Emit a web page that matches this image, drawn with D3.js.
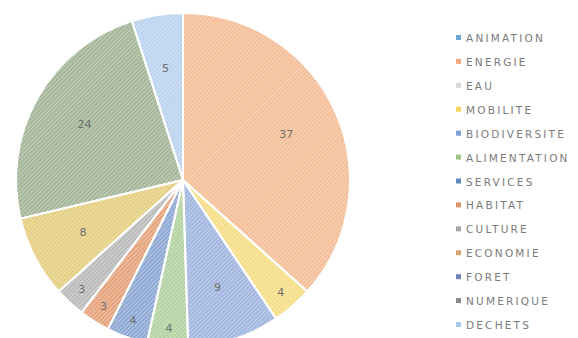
<!DOCTYPE html>
<html><head><meta charset="utf-8">
<script src="https://cdn.jsdelivr.net/npm/d3@7/dist/d3.min.js"></script>
<style>body{margin:0;background:#fff}svg{display:block}</style>
</head><body>
<svg id="chart" width="578" height="338"></svg>
<script>
const categories = ["ANIMATION","ENERGIE","EAU","MOBILITE","BIODIVERSITE","ALIMENTATION","SERVICES","HABITAT","CULTURE","ECONOMIE","FORET","NUMERIQUE","DECHETS"];
const values = [0,37,0,4,9,4,4,3,3,8,0,24,5];
const colors = ["#79AEDF","#F4BE98","#D3D3D3","#F6DE86","#A2B7E0","#B3D2A1","#8EA9D3","#E6A47C","#BBBBBB","#E5CF82","#8496C2","#A5B699","#BBD3EE"];
const legendColors = ["#6FA8DC","#F2A679","#DADADA","#F3D65E","#7D9ED6","#9CC585","#5E88BE","#D9966A","#A5A5A5","#D6A56E","#7084B8","#8A8A8A","#A9C8EC"];

const svg = d3.select("#chart");
const cx = 183, cy = 180, R = 167;

const defs = svg.append("defs");
const pat = defs.append("pattern").attr("id","stripes").attr("patternUnits","userSpaceOnUse")
  .attr("width",3).attr("height",3).attr("patternTransform","rotate(45)");
pat.append("rect").attr("width",1).attr("height",3).attr("fill","#fff").attr("opacity",0.35);

const data = categories.map((c,i)=>({cat:c,value:values[i],color:colors[i]}));
const pie = d3.pie().value(d=>d.value).sort(null);
const arcs = pie(data).filter(a=>a.data.value>0);
const arc = d3.arc().innerRadius(0).outerRadius(R);

const g = svg.append("g").attr("transform",`translate(${cx},${cy})`);
g.selectAll("path.slice").data(arcs).enter().append("path")
  .attr("class","slice").attr("d",arc).attr("fill",d=>d.data.color);
g.selectAll("path.hatch").data(arcs).enter().append("path")
  .attr("d",arc).attr("fill","url(#stripes)");
g.selectAll("path.border").data(arcs).enter().append("path")
  .attr("d",arc).attr("fill","none").attr("stroke","#fff").attr("stroke-width",2).attr("stroke-linejoin","round");

g.selectAll("text.lbl").data(arcs).enter().append("text")
  .attr("transform",d=>{
    const r = d.data.value<=4 ? 149 : 113;
    const a = (d.startAngle+d.endAngle)/2;
    return `translate(${r*Math.sin(a)},${-r*Math.cos(a)})`;
  })
  .attr("text-anchor","middle").attr("dy","0.35em")
  .attr("font-family","DejaVu Sans, sans-serif").attr("font-size",11)
  .attr("fill","#6f6f6f").text(d=>d.data.value);

const legend = svg.append("g");
const ly = d3.scaleLinear().domain([0,categories.length-1]).range([38,325]);
const items = legend.selectAll("g").data(categories).enter().append("g")
  .attr("transform",(d,i)=>`translate(456,${ly(i)})`);
items.append("rect").attr("x",0).attr("y",-3).attr("width",5).attr("height",5)
  .attr("fill",(d,i)=>legendColors[i]);
items.append("text").attr("x",10).attr("y",0).attr("dy","0.38em")
  .attr("font-family","DejaVu Sans, sans-serif").attr("font-size",10.5)
  .attr("letter-spacing","2.2px").attr("fill","#7b7b7b").text(d=>d);
</script>
</body></html>
